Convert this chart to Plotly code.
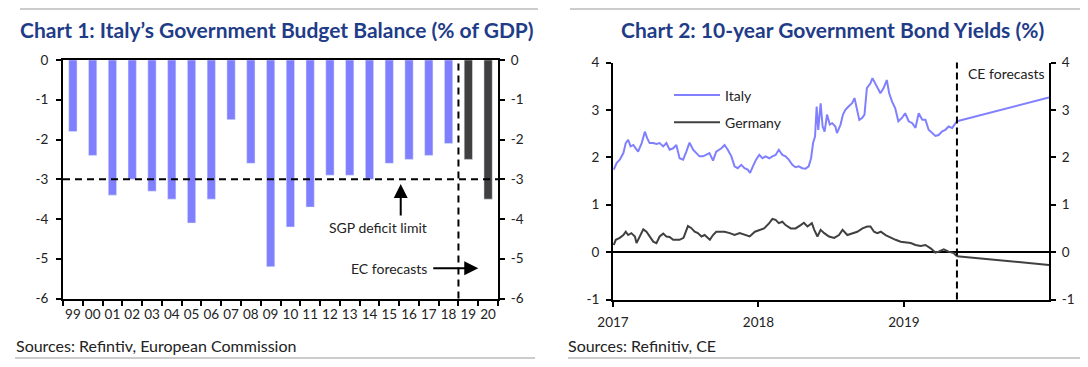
import plotly.graph_objects as go

# ---------------- Chart 1 data ----------------
years = ["99", "00", "01", "02", "03", "04", "05", "06", "07", "08", "09",
         "10", "11", "12", "13", "14", "15", "16", "17", "18", "19", "20"]
actual_years = years[:20]
forecast_years = years[20:]
balance_actual = [-1.8, -2.4, -3.4, -3.0, -3.3, -3.5, -4.1, -3.5, -1.5, -2.6,
                  -5.2, -4.2, -3.7, -2.9, -2.9, -3.0, -2.6, -2.5, -2.4, -2.1]
balance_forecast = [-2.5, -3.5]
sgp_limit = -3
ec_forecast_boundary = 19.5  # between "18" and "19"
y1_ticks = [0, -1, -2, -3, -4, -5, -6]
y1_labels = ["0", "-1", "-2", "-3", "-4", "-5", "-6"]

# ---------------- Chart 2 data ----------------
italy_dates = [
    "2017-01-03", "2017-01-10", "2017-01-18", "2017-01-27", "2017-02-02", "2017-02-08",
    "2017-02-14", "2017-02-21", "2017-02-27", "2017-03-05", "2017-03-14", "2017-03-22",
    "2017-03-28", "2017-04-03", "2017-04-12", "2017-04-20", "2017-04-28", "2017-05-07",
    "2017-05-15", "2017-05-23", "2017-06-01", "2017-06-09", "2017-06-17", "2017-06-26",
    "2017-07-04", "2017-07-12", "2017-07-21", "2017-07-29", "2017-08-06", "2017-08-15",
    "2017-08-23", "2017-08-31", "2017-09-09", "2017-09-17", "2017-09-30", "2017-10-08",
    "2017-10-16", "2017-10-25", "2017-11-02", "2017-11-10", "2017-11-19", "2017-11-27",
    "2017-12-05", "2017-12-11", "2017-12-18", "2017-12-26", "2018-01-03", "2018-01-11",
    "2018-01-19", "2018-01-28", "2018-02-05", "2018-02-13", "2018-02-21", "2018-03-02",
    "2018-03-10", "2018-03-18", "2018-03-27", "2018-04-04", "2018-04-12", "2018-04-21",
    "2018-04-29", "2018-05-07", "2018-05-13", "2018-05-18", "2018-05-23", "2018-05-27",
    "2018-05-31", "2018-06-06", "2018-06-11", "2018-06-16", "2018-06-22", "2018-06-29",
    "2018-07-05", "2018-07-13", "2018-07-17", "2018-07-26", "2018-08-01", "2018-08-07",
    "2018-08-15", "2018-08-24", "2018-08-30", "2018-09-05", "2018-09-11", "2018-09-18",
    "2018-09-24", "2018-09-30", "2018-10-09", "2018-10-14", "2018-10-21", "2018-10-28",
    "2018-11-03", "2018-11-11", "2018-11-19", "2018-11-25", "2018-12-02", "2018-12-10",
    "2018-12-18", "2018-12-27", "2019-01-04", "2019-01-13", "2019-01-22", "2019-01-30",
    "2019-02-07", "2019-02-16", "2019-02-24", "2019-03-04", "2019-03-13", "2019-03-21",
    "2019-03-29", "2019-04-07", "2019-04-15", "2019-04-23", "2019-05-02", "2019-05-10",
    "2019-05-14"]
italy_yield = [
    1.74, 1.88, 1.95, 2.09, 2.30, 2.37, 2.23, 2.26, 2.19, 2.12, 2.30, 2.54,
    2.40, 2.30, 2.30, 2.28, 2.30, 2.23, 2.30, 2.16, 2.19, 2.26, 1.98, 1.95,
    2.12, 2.31, 2.16, 2.09, 2.02, 2.02, 2.05, 2.09, 1.93, 2.12, 2.19, 2.26,
    2.16, 2.02, 1.81, 1.77, 1.84, 1.77, 1.74, 1.67, 1.81, 1.95, 2.05, 1.98,
    2.02, 1.98, 2.02, 2.05, 2.16, 2.05, 2.02, 1.95, 1.84, 1.79, 1.81, 1.77,
    1.76, 1.81, 1.98, 2.30, 2.44, 3.07, 2.58, 3.14, 2.65, 2.54, 2.90, 2.69,
    2.72, 2.65, 2.51, 2.69, 2.90, 3.00, 3.07, 3.14, 3.25, 3.00, 2.79, 2.83,
    2.90, 3.46, 3.56, 3.67, 3.56, 3.42, 3.35, 3.46, 3.63, 3.35, 3.18, 3.04,
    2.76, 2.83, 2.93, 2.76, 2.72, 2.62, 2.93, 2.79, 2.79, 2.58, 2.51, 2.45,
    2.47, 2.55, 2.58, 2.65, 2.62, 2.72, 2.76]

germany_dates = [
    "2017-01-03", "2017-01-08", "2017-01-18", "2017-01-27", "2017-02-02", "2017-02-08",
    "2017-02-16", "2017-02-25", "2017-03-01", "2017-03-09", "2017-03-18", "2017-03-26",
    "2017-04-03", "2017-04-12", "2017-04-20", "2017-04-28", "2017-05-07", "2017-05-15",
    "2017-05-23", "2017-06-01", "2017-06-09", "2017-06-17", "2017-06-27", "2017-07-08",
    "2017-07-16", "2017-07-25", "2017-08-02", "2017-08-11", "2017-08-19", "2017-08-28",
    "2017-09-01", "2017-09-09", "2017-09-17", "2017-09-30", "2017-10-08", "2017-10-21",
    "2017-11-02", "2017-11-15", "2017-11-27", "2017-12-10", "2017-12-23", "2018-01-03",
    "2018-01-15", "2018-01-28", "2018-02-05", "2018-02-13", "2018-02-21", "2018-03-02",
    "2018-03-10", "2018-03-23", "2018-04-04", "2018-04-17", "2018-04-25", "2018-05-04",
    "2018-05-15", "2018-05-21", "2018-05-29", "2018-06-06", "2018-06-15", "2018-06-27",
    "2018-07-10", "2018-07-22", "2018-07-31", "2018-08-12", "2018-08-25", "2018-09-06",
    "2018-09-19", "2018-10-01", "2018-10-09", "2018-10-18", "2018-10-26", "2018-11-04",
    "2018-11-16", "2018-11-29", "2018-12-11", "2018-12-24", "2019-01-05", "2019-01-18",
    "2019-01-30", "2019-02-12", "2019-02-24", "2019-03-09", "2019-03-21", "2019-03-29",
    "2019-04-11", "2019-04-23", "2019-05-06", "2019-05-14"]
germany_yield = [
    0.15, 0.26, 0.30, 0.36, 0.43, 0.36, 0.40, 0.33, 0.19, 0.33, 0.48, 0.43,
    0.33, 0.22, 0.19, 0.33, 0.39, 0.33, 0.32, 0.26, 0.26, 0.26, 0.30, 0.55,
    0.51, 0.43, 0.40, 0.33, 0.36, 0.30, 0.26, 0.36, 0.43, 0.43, 0.43, 0.40,
    0.36, 0.40, 0.36, 0.33, 0.43, 0.47, 0.50, 0.61, 0.70, 0.68, 0.61, 0.64,
    0.57, 0.50, 0.50, 0.57, 0.62, 0.54, 0.61, 0.47, 0.33, 0.47, 0.40, 0.33,
    0.30, 0.36, 0.47, 0.36, 0.40, 0.43, 0.50, 0.54, 0.54, 0.43, 0.40, 0.43,
    0.36, 0.30, 0.26, 0.22, 0.20, 0.19, 0.15, 0.13, 0.15, 0.08, -0.01, 0.01,
    0.06, 0.01, -0.02, -0.09]

forecast_dates = ["2019-05-14", "2019-12-31"]
italy_forecast = [2.76, 3.26]
germany_forecast = [-0.09, -0.27]
ce_forecast_start = "2019-05-14"

year_ticks = ["2017-01-01", "2018-01-01", "2019-01-01"]
year_labels = ["2017", "2018", "2019"]
y2_ticks = [-1, 0, 1, 2, 3, 4]
y2_labels = ["-1", "0", "1", "2", "3", "4"]

# ---------------- Styling ----------------
BLUE = "#8080FF"
DARK = "#404040"
TITLE = "#1F3C88"
TXT = "#222222"
FONT = "Lato"

# Figure (1072x351) sits in the page at (8, 8); map page pixels to paper.
PX0, PW, PY0, PH = 8, 1072, 8, 351


def fx(p):
    return (p - PX0) / PW


def fy(p):
    return 1 - (p - PY0) / PH


fig = go.Figure()

fig.add_trace(go.Bar(x=actual_years, y=balance_actual, marker_color=BLUE,
                     width=0.42, showlegend=False, xaxis="x", yaxis="y"))
fig.add_trace(go.Bar(x=forecast_years, y=balance_forecast, marker_color=DARK,
                     width=0.42, showlegend=False, xaxis="x", yaxis="y3"))

fig.add_trace(go.Scatter(x=italy_dates, y=italy_yield, mode="lines", name="Italy",
                         line=dict(color=BLUE, width=2), xaxis="x2", yaxis="y2",
                         legendgroup="it"))
fig.add_trace(go.Scatter(x=germany_dates, y=germany_yield, mode="lines", name="Germany",
                         line=dict(color=DARK, width=2), xaxis="x2", yaxis="y2",
                         legendgroup="de"))
fig.add_trace(go.Scatter(x=forecast_dates, y=italy_forecast, mode="lines",
                         line=dict(color=BLUE, width=2), xaxis="x2", yaxis="y4",
                         showlegend=False))
fig.add_trace(go.Scatter(x=forecast_dates, y=germany_forecast, mode="lines",
                         line=dict(color=DARK, width=2), xaxis="x2", yaxis="y4",
                         showlegend=False))

axis_common = dict(showline=True, linecolor="black", linewidth=2, ticks="outside",
                   ticklen=5, tickwidth=2, tickcolor="black", showgrid=False,
                   automargin=False, tickangle=0,
                   tickfont=dict(family=FONT, size=13.5, color=TXT))

x1dom = [fx(63), fx(498)]
y1dom = [fy(298.5), fy(60)]
x2dom = [fx(613), fx(1049)]
y2dom = [fy(299.5), fy(62.5)]

fig.update_layout(
    width=1072, height=351, autosize=False,
    margin=dict(l=0, r=0, t=0, b=0, pad=0, autoexpand=False),
    paper_bgcolor="white", plot_bgcolor="white",
    font=dict(family=FONT, size=13, color=TXT),
    xaxis=dict(domain=x1dom, anchor="y", type="category", range=[-0.5, 21.5],
               tickson="boundaries", mirror=True, ticklabelstandoff=2, **axis_common),
    yaxis=dict(domain=y1dom, anchor="x", range=[-6, 0], tickvals=y1_ticks,
               ticktext=y1_labels, zeroline=False, ticklabelstandoff=5, **axis_common),
    yaxis3=dict(overlaying="y", side="right", anchor="x", range=[-6, 0],
                tickvals=y1_ticks, ticktext=y1_labels, zeroline=False,
                ticklabelstandoff=3, **axis_common),
    xaxis2=dict(domain=x2dom, anchor="y2", type="date",
                range=["2017-01-01", "2019-12-31"], tickvals=year_ticks,
                ticktext=year_labels, ticklabelstandoff=4, **axis_common),
    yaxis2=dict(domain=y2dom, anchor="x2", range=[-1, 4], tickvals=y2_ticks,
                ticktext=y2_labels, zeroline=True, zerolinecolor="black",
                zerolinewidth=2, ticklabelstandoff=4, **axis_common),
    yaxis4=dict(overlaying="y2", side="right", anchor="x2", range=[-1, 4],
                tickvals=y2_ticks, ticktext=y2_labels, zeroline=False,
                ticklabelstandoff=3, **axis_common),
    legend=dict(x=fx(669), y=fy(79.5), xanchor="left", yanchor="top",
                font=dict(family=FONT, size=14, color=TXT), itemwidth=46,
                bgcolor="rgba(0,0,0,0)", tracegroupgap=6),
)

shapes = [
    dict(type="line", xref="x domain", yref="y", x0=0, x1=1, y0=sgp_limit, y1=sgp_limit,
         line=dict(color="black", width=2, dash="7px,5px")),
    dict(type="line", xref="x", yref="y domain", x0=ec_forecast_boundary,
         x1=ec_forecast_boundary, y0=0, y1=1,
         line=dict(color="black", width=2, dash="7px,5px")),
    dict(type="line", xref="x2", yref="y2 domain", x0=ce_forecast_start,
         x1=ce_forecast_start, y0=0, y1=1,
         line=dict(color="black", width=2, dash="7px,4px")),
    # decorative separators
    dict(type="line", xref="paper", yref="paper", x0=fx(20), x1=fx(538),
         y0=fy(9), y1=fy(9), line=dict(color="#BBBBBB", width=1.5)),
    dict(type="line", xref="paper", yref="paper", x0=fx(570), x1=fx(1080),
         y0=fy(9), y1=fy(9), line=dict(color="#BBBBBB", width=1.5)),
    dict(type="line", xref="paper", yref="paper", x0=fx(15), x1=fx(535),
         y0=fy(358), y1=fy(358), line=dict(color="#BBBBBB", width=1.5)),
    dict(type="line", xref="paper", yref="paper", x0=fx(568), x1=fx(1080),
         y0=fy(358), y1=fy(358), line=dict(color="#BBBBBB", width=1.5)),
]

annotations = [
    dict(text="<b>Chart 1: Italy’s Government Budget Balance (% of GDP)</b>",
         xref="paper", yref="paper", x=fx(277), y=fy(29), showarrow=False,
         xanchor="center", yanchor="middle",
         font=dict(family=FONT, size=21, color=TITLE)),
    dict(text="<b>Chart 2: 10-year Government Bond Yields (%)</b>",
         xref="paper", yref="paper", x=fx(832), y=fy(29), showarrow=False,
         xanchor="center", yanchor="middle",
         font=dict(family=FONT, size=21, color=TITLE)),
    dict(text="Sources: Refintiv, European Commission", xref="paper", yref="paper",
         x=fx(14), y=fy(345), showarrow=False, xanchor="left", yanchor="middle",
         font=dict(family=FONT, size=16, color=TXT)),
    dict(text="Sources: Refinitiv, CE", xref="paper", yref="paper",
         x=fx(566), y=fy(345), showarrow=False, xanchor="left", yanchor="middle",
         font=dict(family=FONT, size=16, color=TXT)),
    dict(text="SGP deficit limit", xref="x", yref="y", x=15.43, y=-4.21,
         showarrow=False, xanchor="center", yanchor="middle",
         font=dict(family=FONT, size=14, color=TXT)),
    dict(text="", xref="x", yref="y", x=16.58, y=-3.12, ax=16.58, ay=-3.95,
         axref="x", ayref="y", showarrow=True, arrowhead=2, arrowsize=1.4,
         arrowwidth=2, arrowcolor="black"),
    dict(text="EC forecasts", xref="x", yref="y", x=16.0, y=-5.24,
         showarrow=False, xanchor="center", yanchor="middle",
         font=dict(family=FONT, size=14, color=TXT)),
    dict(text="", xref="x", yref="y", x=20.5, y=-5.24, ax=18.15, ay=-5.24,
         axref="x", ayref="y", showarrow=True, arrowhead=2, arrowsize=1.4,
         arrowwidth=2, arrowcolor="black"),
    dict(text="CE forecasts", xref="x2", yref="y2", x="2019-06-05", y=3.76,
         showarrow=False, xanchor="left", yanchor="middle",
         font=dict(family=FONT, size=14, color=TXT)),
]

fig.update_layout(shapes=shapes, annotations=annotations)

fig.write_html("out.html", config={"displayModeBar": False})
